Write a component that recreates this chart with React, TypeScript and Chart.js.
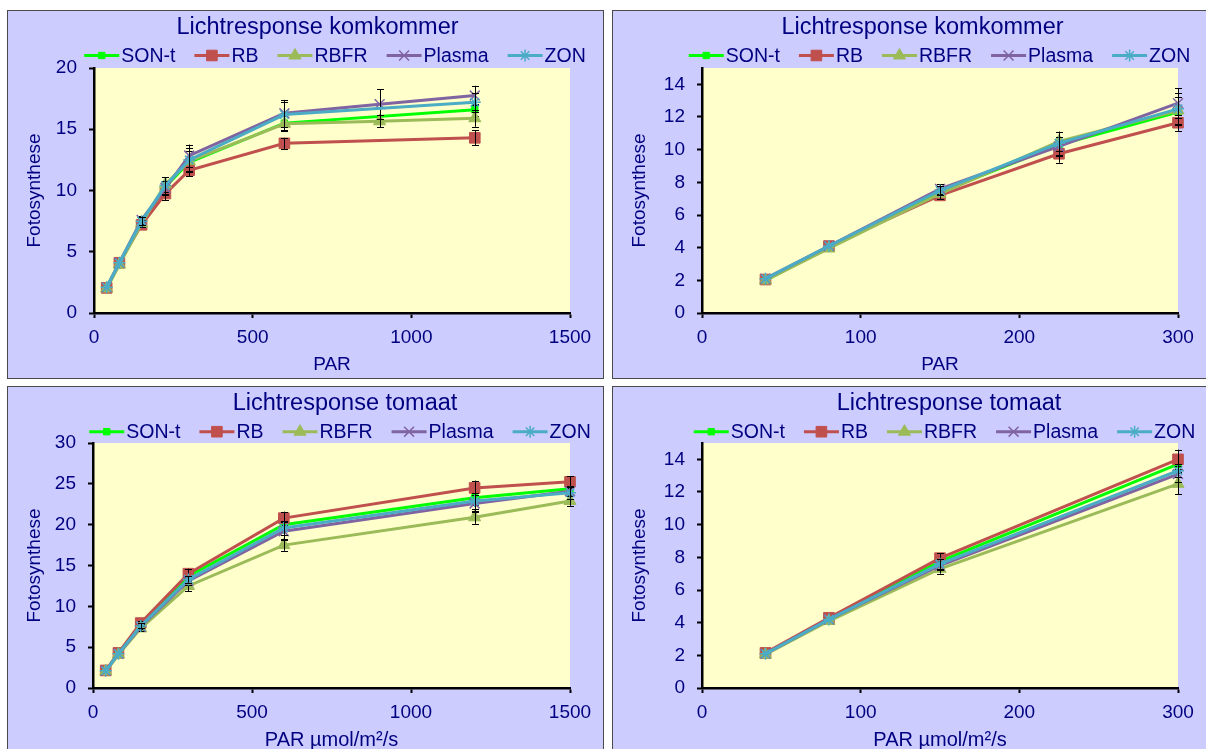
import React, { useEffect, useRef } from 'react';
import { Chart, registerables } from 'chart.js';
import * as helpers from 'chart.js/helpers';

Chart.register(...registerables);

const FONT = 'Liberation Sans';
const NAVY = '#000080';

const SERIES = ['SON-t', 'RB', 'RBFR', 'Plasma', 'ZON'];
const COLORS = ['#00FF00', '#C0504D', '#9BBB59', '#8064A2', '#4BACC6'];
const POINT_STYLES = ['rect', 'rect', 'triangle', 'crossRot', 'star'];
const POINT_RADII = [4.5, 7.5, 7, 7, 6];

// Komkommer (cucumber)
const cucumberPAR = [40, 80, 150, 225, 300, 600, 900, 1200];
const cucumberSONt = [2.0, 4.05, 7.4, 10.3, 12.3, 15.5, null, 16.6];
const cucumberRB = [2.05, 4.1, 7.2, 9.75, 11.65, 13.85, null, 14.3];
const cucumberRBFR = [2.0, 3.95, 7.3, 10.5, 12.4, 15.45, 15.65, 15.9];
const cucumberPlasma = [2.1, 4.1, 7.6, 10.2, 12.85, 16.3, 17.05, 17.75];
const cucumberZON = [2.1, 4.1, 7.5, 10.4, 12.5, 16.2, null, 17.2];
const cucumberErrSONt = [0, 0, 0.3, 0.5, 0.9, 0.6, 0, 0.5];
const cucumberErrRB = [0, 0, 0.2, 0.55, 0.5, 0.45, 0, 0.6];
const cucumberErrRBFR = [0, 0, 0.3, 0.6, 0.8, 0.6, 0.5, 0.7];
const cucumberErrPlasma = [0, 0, 0.3, 0.6, 0.9, 1.1, 1.2, 0.8];
const cucumberErrZON = [0, 0, 0.3, 0.7, 1.0, 1.0, 0, 0.8];

// Tomaat (tomato)
const tomatoPAR = [40, 80, 150, 300, 600, 1200, 1500];
const tomatoSONt = [2.1, 4.25, 7.75, 13.7, 20.0, 23.3, 24.4];
const tomatoRB = [2.15, 4.3, 7.95, 14.0, 20.8, 24.5, 25.25];
const tomatoRBFR = [2.05, 4.1, 7.3, 12.5, 17.5, 20.9, 22.9];
const tomatoPlasma = [2.1, 4.2, 7.5, 13.1, 19.2, 22.6, 24.1];
const tomatoZON = [2.1, 4.2, 7.6, 13.3, 19.6, 22.9, 23.9];
const tomatoErrSONt = [0, 0, 0.3, 0.5, 0.8, 0.9, 0.8];
const tomatoErrRB = [0, 0, 0.3, 0.6, 0.8, 0.9, 0.7];
const tomatoErrRBFR = [0, 0, 0.3, 0.65, 0.7, 0.8, 0.6];
const tomatoErrPlasma = [0, 0, 0.3, 0.5, 1.1, 1.0, 0.6];
const tomatoErrZON = [0, 0, 0.3, 0.4, 0.9, 1.0, 0.7];

const cucumberValues = [cucumberSONt, cucumberRB, cucumberRBFR, cucumberPlasma, cucumberZON];
const cucumberErrors = [cucumberErrSONt, cucumberErrRB, cucumberErrRBFR, cucumberErrPlasma, cucumberErrZON];
const tomatoValues = [tomatoSONt, tomatoRB, tomatoRBFR, tomatoPlasma, tomatoZON];
const tomatoErrors = [tomatoErrSONt, tomatoErrRB, tomatoErrRBFR, tomatoErrPlasma, tomatoErrZON];

const TITLE_CUC = 'Lichtresponse komkommer';
const TITLE_TOM = 'Lichtresponse tomaat';
const Y_TITLE = 'Fotosynthese';
const X_TITLE_TOP = 'PAR';
const X_TITLE_BOTTOM = 'PAR µmol/m²/s';

const W = 595;
const H = 367;

type PanelCfg = {
  left: number; top: number; title: string; xTitle: string; xTitleSize: number;
  xMax: number; xStep: number; yMax: number; yStep: number;
  xs: number[]; values: (number | null)[][]; errors: number[][];
  area: { l: number; r: number; t: number; b: number };
  titleX: number; titleY: number; legendX: number; legendY: number;
};

const PANELS: PanelCfg[] = [
  { left: 7, top: 10, title: TITLE_CUC, xTitle: X_TITLE_TOP, xTitleSize: 19, xMax: 1500, xStep: 500, yMax: 20, yStep: 5,
    xs: cucumberPAR, values: cucumberValues, errors: cucumberErrors,
    area: { l: 86, r: 562, t: 57, b: 302 }, titleX: 309.5, titleY: 17, legendX: 327, legendY: 44.5 },
  { left: 612, top: 10, title: TITLE_CUC, xTitle: X_TITLE_TOP, xTitleSize: 19, xMax: 300, xStep: 100, yMax: 15, yStep: 2,
    xs: cucumberPAR, values: cucumberValues, errors: cucumberErrors,
    area: { l: 89, r: 565, t: 57, b: 302 }, titleX: 309.5, titleY: 17, legendX: 326.5, legendY: 44.5 },
  { left: 7, top: 386, title: TITLE_TOM, xTitle: X_TITLE_BOTTOM, xTitleSize: 20, xMax: 1500, xStep: 500, yMax: 30, yStep: 5,
    xs: tomatoPAR, values: tomatoValues, errors: tomatoErrors,
    area: { l: 85, r: 562, t: 56, b: 301 }, titleX: 337, titleY: 16.5, legendX: 332, legendY: 44.7 },
  { left: 612, top: 386, title: TITLE_TOM, xTitle: X_TITLE_BOTTOM, xTitleSize: 20, xMax: 300, xStep: 100, yMax: 15, yStep: 2,
    xs: tomatoPAR, values: tomatoValues, errors: tomatoErrors,
    area: { l: 89, r: 565, t: 56, b: 301 }, titleX: 336, titleY: 16.5, legendX: 331.5, legendY: 44.7 },
];

function ChartPanel({ cfg }: { cfg: PanelCfg }) {
  const ref = useRef<HTMLCanvasElement | null>(null);

  useEffect(() => {
    if (!ref.current) return;
    const { area } = cfg;

    const seriesPoints = SERIES.map((_, i) =>
      cfg.xs
        .map((x, j) => ({ x, y: cfg.values[i][j], e: cfg.errors[i][j] }))
        .filter((p) => p.y !== null && p.x <= cfg.xMax)
    );

    const bgPlugin = {
      id: 'plotBg',
      beforeDraw(chart: any) {
        const { ctx, chartArea } = chart;
        ctx.save();
        ctx.fillStyle = '#FFFFCC';
        ctx.fillRect(chartArea.left, chartArea.top, chartArea.right - chartArea.left, chartArea.bottom - chartArea.top);
        ctx.restore();
      },
    };

    const errPlugin = {
      id: 'errBars',
      afterDatasetDraw(chart: any, args: any) {
        const { ctx } = chart;
        const xs = chart.scales.x;
        const ys = chart.scales.y;
        const pts = seriesPoints[args.index];
        ctx.save();
        ctx.strokeStyle = '#000';
        ctx.lineWidth = 1;
        pts.forEach((p: any) => {
          if (!p.e) return;
          const px = Math.round(xs.getPixelForValue(p.x)) + 0.5;
          const y1 = ys.getPixelForValue(p.y + p.e);
          const y2 = ys.getPixelForValue(p.y - p.e);
          ctx.beginPath();
          ctx.moveTo(px, y1);
          ctx.lineTo(px, y2);
          ctx.moveTo(px - 3.5, Math.round(y1) + 0.5);
          ctx.lineTo(px + 3.5, Math.round(y1) + 0.5);
          ctx.moveTo(px - 3.5, Math.round(y2) + 0.5);
          ctx.lineTo(px + 3.5, Math.round(y2) + 0.5);
          ctx.stroke();
        });
        ctx.restore();
      },
    };

    const headPlugin = {
      id: 'head',
      afterDraw(chart: any) {
        const { ctx } = chart;
        ctx.save();
        ctx.fillStyle = NAVY;
        ctx.textAlign = 'center';
        ctx.textBaseline = 'middle';
        ctx.font = `23.5px "${FONT}"`;
        ctx.fillText(cfg.title, cfg.titleX, cfg.titleY);

        ctx.font = `19.5px "${FONT}"`;
        const lineLen = 35;
        const gapText = 2;
        const gapItem = 19;
        const widths = SERIES.map((s) => ctx.measureText(s).width);
        const total = widths.reduce((a, w) => a + w + lineLen + gapText, 0) + gapItem * (SERIES.length - 1);
        let x = cfg.legendX - total / 2;
        const y = cfg.legendY;
        SERIES.forEach((s, i) => {
          ctx.strokeStyle = COLORS[i];
          ctx.lineWidth = 3;
          ctx.beginPath();
          ctx.moveTo(x, y);
          ctx.lineTo(x + lineLen, y);
          ctx.stroke();
          ctx.fillStyle = COLORS[i];
          ctx.strokeStyle = COLORS[i];
          const cross = POINT_STYLES[i] === 'crossRot' || POINT_STYLES[i] === 'star';
          ctx.lineWidth = cross ? 1.5 : 1;
          helpers.drawPoint(ctx, { pointStyle: POINT_STYLES[i], radius: POINT_RADII[i], rotation: 0, borderWidth: ctx.lineWidth } as any, x + lineLen / 2, y);
          ctx.fillStyle = NAVY;
          ctx.textAlign = 'left';
          ctx.fillText(s, x + lineLen + gapText, y + 1);
          x += lineLen + gapText + widths[i] + gapItem;
        });
        ctx.restore();
      },
    };

    const tickFont = { family: FONT, size: 19 };

    const chart = new Chart(ref.current, {
      type: 'line',
      data: {
        datasets: SERIES.map((name, i) => {
          const cross = POINT_STYLES[i] === 'crossRot' || POINT_STYLES[i] === 'star';
          return {
            label: name,
            data: seriesPoints[i].map((p: any) => ({ x: p.x, y: p.y })),
            borderColor: COLORS[i],
            backgroundColor: COLORS[i],
            borderWidth: 3,
            pointStyle: POINT_STYLES[i] as any,
            pointRadius: POINT_RADII[i],
            pointBorderWidth: cross ? 1.5 : 1,
            pointBackgroundColor: COLORS[i],
            pointBorderColor: COLORS[i],
            pointHoverRadius: POINT_RADII[i],
            tension: 0,
            clip: false as any,
            order: SERIES.length - i,
          };
        }),
      },
      options: {
        animation: false,
        responsive: false,
        maintainAspectRatio: false,
        events: [],
        layout: { padding: { left: 0, top: area.t, right: W - area.r, bottom: 0 } },
        plugins: {
          legend: { display: false },
          title: { display: false },
          tooltip: { enabled: false },
        },
        scales: {
          x: {
            type: 'linear',
            position: 'bottom',
            min: 0,
            max: cfg.xMax,
            ticks: {
              stepSize: cfg.xStep, color: NAVY, font: tickFont, padding: 8, maxRotation: 0, autoSkip: false,
              callback: (v: any) => String(v),
            },
            grid: { drawOnChartArea: false, drawTicks: true, tickLength: 5, tickColor: '#000', tickWidth: 2 },
            border: { display: true, color: '#000', width: 2.5 },
            title: { display: true, text: cfg.xTitle, color: NAVY, font: { family: FONT, size: cfg.xTitleSize }, padding: { top: 0, bottom: 2 } },
            afterFit: (s: any) => { s.height = H - area.b; s.paddingLeft = 0; s.paddingRight = 0; },
          },
          y: {
            type: 'linear',
            min: 0,
            max: cfg.yMax,
            ticks: { stepSize: cfg.yStep, color: NAVY, font: tickFont, padding: 12, callback: (v: any) => String(v) },
            grid: { drawOnChartArea: false, drawTicks: true, tickLength: 5, tickColor: '#000', tickWidth: 2 },
            border: { display: true, color: '#000', width: 2.5 },
            title: { display: true, text: Y_TITLE, color: NAVY, font: tickFont, padding: { top: 15, bottom: 0 } },
            afterBuildTicks: (s: any) => {
              const t: any[] = [];
              for (let v = 0; v <= cfg.yMax + 1e-9; v += cfg.yStep) t.push({ value: v });
              s.ticks = t;
            },
            afterFit: (s: any) => { s.width = area.l; s.paddingTop = 0; s.paddingBottom = 0; },
          },
        },
      } as any,
      plugins: [bgPlugin, errPlugin, headPlugin],
    });

    return () => chart.destroy();
  }, [cfg]);

  return (
    <div
      style={{
        position: 'absolute',
        left: cfg.left,
        top: cfg.top,
        width: W + 2,
        height: H + 2,
        boxSizing: 'border-box',
        border: '1px solid #4a4a4a',
        background: '#CCCCFF',
      }}
    >
      <canvas ref={ref} width={W} height={H} style={{ display: 'block', width: W, height: H }} />
    </div>
  );
}

export default function App() {
  return (
    <div
      style={{
        position: 'fixed',
        left: 0,
        top: 0,
        width: 1206,
        height: 749,
        overflow: 'hidden',
        background: '#FFFFFF',
      }}
    >
      {PANELS.map((p, i) => (
        <ChartPanel key={i} cfg={p} />
      ))}
    </div>
  );
}
